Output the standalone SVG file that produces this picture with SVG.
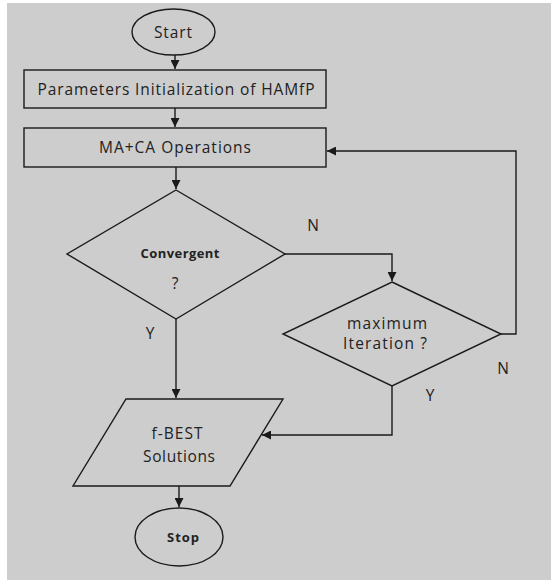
<svg xmlns="http://www.w3.org/2000/svg" width="551" height="580" viewBox="0 0 551 580">
<defs>
<style>
.bg{fill:#cdcdcd}
.sh{fill:none;stroke:#1a1a1a;stroke-width:1.4}
.cn{fill:none;stroke:#1a1a1a;stroke-width:1.4}
.t{font-family:"Open Sans","DejaVu Sans",sans-serif;font-size:15.5px;fill:#222222;text-anchor:middle;dominant-baseline:central}
.b{font-weight:bold;font-size:13px}
</style>
<marker id="ah" viewBox="0 0 10 10" refX="10" refY="5" markerWidth="9" markerHeight="9" markerUnits="userSpaceOnUse" orient="auto">
<path d="M0,0 L10,5 L0,10 Z" fill="#1a1a1a"/>
</marker>
</defs>
<rect x="0" y="0" width="551" height="580" fill="#ffffff"/>
<rect class="bg" x="7" y="3" width="544" height="577"/>
<g id="connectors">
<path class="cn" d="M175,55 V69" marker-end="url(#ah)"/>
<path class="cn" d="M175,108 V127" marker-end="url(#ah)"/>
<path class="cn" d="M176,167 V189" marker-end="url(#ah)"/>
<path class="cn" d="M285,254 H392 V281" marker-end="url(#ah)"/>
<path class="cn" d="M501,334 H516 V151 H327" marker-end="url(#ah)"/>
<path class="cn" d="M176,319 V398" marker-end="url(#ah)"/>
<path class="cn" d="M392,386 V435 H262" marker-end="url(#ah)"/>
<path class="cn" d="M179,486 V507" marker-end="url(#ah)"/>
<text class="t" x="313" y="225">N</text>
<text class="t" x="150" y="333">Y</text>
<text class="t" x="503" y="368">N</text>
<text class="t" x="430" y="395">Y</text>
</g>
<g id="start">
<ellipse class="sh" cx="173.5" cy="32" rx="41.5" ry="23"/>
<text class="t" x="173" y="32" textLength="38">Start</text>
</g>
<g id="init">
<rect class="sh" x="24" y="70" width="302" height="38"/>
<text class="t" x="176" y="89" textLength="277">Parameters Initialization of HAMfP</text>
</g>
<g id="ops">
<rect class="sh" x="24" y="128" width="302" height="39"/>
<text class="t" x="175" y="147" textLength="152">MA+CA Operations</text>
</g>
<g id="convergent">
<path class="sh" d="M176,190 L285,254 L176,319 L67,254 Z"/>
<text class="t b" x="180" y="253" textLength="79">Convergent</text>
<text class="t" x="175" y="283">?</text>
</g>
<g id="maxiter">
<path class="sh" d="M392,282 L501,334 L392,386 L283,334 Z"/>
<text class="t" x="387" y="323" textLength="80">maximum</text>
<text class="t" x="385" y="343" textLength="84">Iteration ?</text>
</g>
<g id="best">
<path class="sh" d="M126,399 L283,399 L230,486 L73,486 Z"/>
<text class="t" x="177" y="433" textLength="51">f-BEST</text>
<text class="t" x="179" y="456" textLength="72">Solutions</text>
</g>
<g id="stop">
<ellipse class="sh" cx="179" cy="537" rx="44" ry="29" stroke-width="1"/>
<text class="t b" x="183" y="537" textLength="32">Stop</text>
</g>
</svg>
